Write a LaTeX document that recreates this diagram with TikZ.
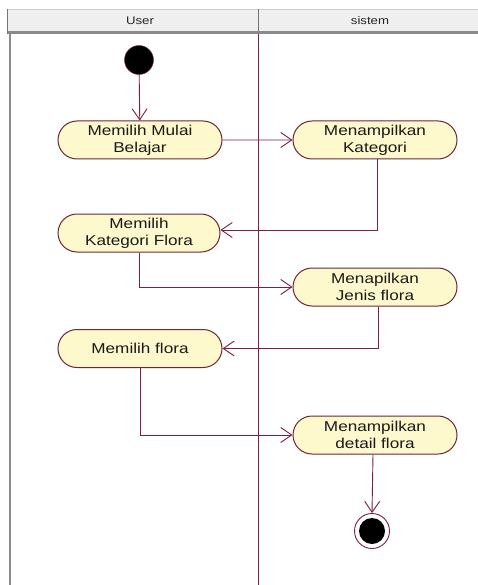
\documentclass[tikz,border=0pt]{standalone}
\usepackage{fontspec}
\setmainfont{Liberation Sans}
\newfontfamily\actfont[FakeStretch=1.2]{Liberation Sans}
\usetikzlibrary{arrows.meta,shapes.misc}

\definecolor{flowc}{HTML}{7A1F45}
\definecolor{edgec}{HTML}{6E2636}
\definecolor{actfill}{HTML}{FDF9CC}
\definecolor{hdrfill}{HTML}{EFEFEF}
\definecolor{hdrline}{HTML}{8A8A8A}

\begin{document}
\begin{tikzpicture}[x=1pt,y=-1pt,
  action/.style={rounded rectangle, draw=edgec, fill=actfill, line width=1pt,
    minimum width=164pt, minimum height=38pt, inner sep=0pt, align=center,
    font=\actfont\fontsize{14.3}{17}\selectfont, text=black!90},
  lanehead/.style={font=\actfont\fontsize{11}{13}\selectfont, text=black!85},
  flow/.style={draw=flowc, line width=0.9pt, -{Straight Barb[length=11pt,width=15pt]}},
  initial/.style={circle, fill=black, draw=flowc, minimum size=29pt, inner sep=0pt},
  finalring/.style={circle, draw=flowc, fill=white, line width=0.9pt, minimum size=35pt, inner sep=0pt},
]
% canvas
\useasboundingbox (0,0) rectangle (478,585);
\fill[white] (0,0) rectangle (478,585);

% swimlane header
\fill[hdrfill] (7,9) rectangle (478,31);
\draw[black!20] (7,9) -- (478,9);
\fill[hdrline] (7,31) rectangle (478,34);
\draw[black!55, line width=1pt] (7,9) -- (7,34);
\draw[black!55, line width=1pt] (258,9) -- (258,31);
\node[lanehead] (laneuser) at (140,20.5) {User};
\node[lanehead] (lanesys) at (370,20.5) {sistem};

% lane borders
\draw[black!45, line width=1.5pt] (10,34) -- (10,585);
\draw[flowc, line width=0.9pt] (258,34) -- (258,585);

% start and end states
\node[initial] (start) at (139,60) {};
\node[finalring] (endring) at (372,531) {};
\node[circle, fill=black, minimum size=26pt, inner sep=0pt] (enddot) at (372,531) {};

% actions
\node[action] (a1) at (140,140) {Memilih Mulai\\Belajar};
\node[action] (a2) at (375,140) {Menampilkan\\Kategori};
\node[action, minimum width=162pt] (a3) at (139,233) {Memilih\\Kategori Flora};
\node[action] (a4) at (375,287) {Menapilkan\\Jenis flora};
\node[action] (a5) at (140,348.5) {Memilih flora};
\node[action] (a6) at (375,435) {Menampilkan\\detail flora};

% control flow
\draw[flow] (start) -- (a1);
\draw[flow] (a1) -- (a2);
\draw[flow] ([xshift=2pt]a2.south) |- ([yshift=3pt]a3.east);
\draw[flow] (a3.south) |- (a4.west);
\draw[flow] ([xshift=3pt]a4.south) |- (a5.east);
\draw[flow] (a5.south) |- (a6.west);
\draw[flow] ([xshift=-2pt]a6.south) -- (endring.north);
\end{tikzpicture}
\end{document}
